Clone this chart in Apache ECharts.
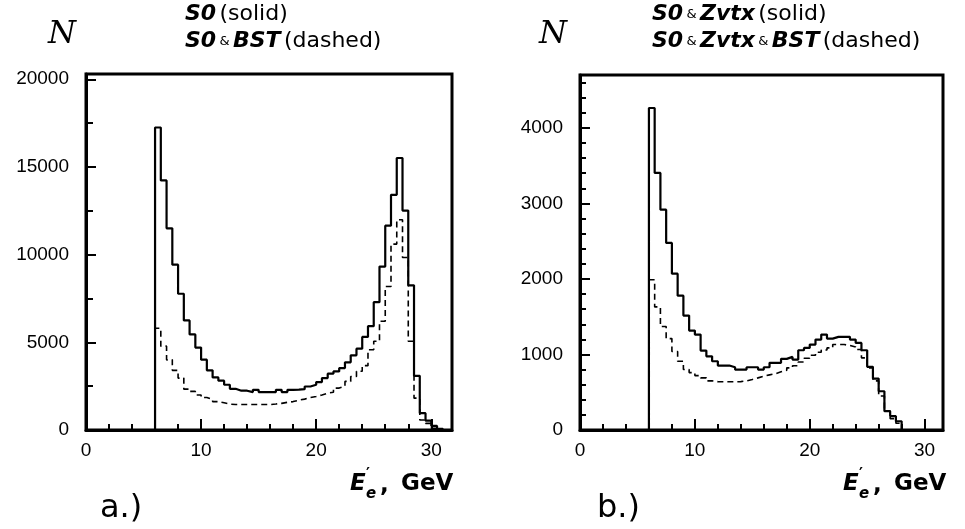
<!DOCTYPE html>
<html>
<head>
<meta charset="utf-8">
<script src="https://cdn.jsdelivr.net/npm/echarts@6/dist/echarts.min.js"></script>
<style>
html,body{margin:0;padding:0;background:#fff;}
#chart{width:965px;height:529px;}
</style>
</head>
<body>
<div id="chart"></div>
<script>
// ---- data ----
const binWidth = 0.5; // GeV
const binLow = [6, 6.5, 7, 7.5, 8, 8.5, 9, 9.5, 10, 10.5,
  11, 11.5, 12, 12.5, 13, 13.5, 14, 14.5, 15, 15.5,
  16, 16.5, 17, 17.5, 18, 18.5, 19, 19.5, 20, 20.5,
  21, 21.5, 22, 22.5, 23, 23.5, 24, 24.5, 25, 25.5,
  26, 26.5, 27, 27.5, 28, 28.5, 29, 29.5, 30, 30.5];

// panel a.) S0 (solid)
const aSolid = [17250, 14230, 11500, 9430, 7770, 6250, 5450, 4700, 4010, 3400,
  3000, 2810, 2580, 2350, 2240, 2240, 2160, 2290, 2160, 2160,
  2160, 2290, 2160, 2290, 2300, 2330, 2480, 2580, 2730, 2960,
  3210, 3340, 3530, 3860, 4260, 4640, 5310, 5920, 7290, 9320,
  11650, 13410, 15510, 12510, 8250, 3090, 960, 530, 230, 60];
// panel a.) S0 & BST (dashed)
const aDashed = [5800, 4780, 4000, 3400, 2960, 2330, 2200, 2000, 1850, 1750,
  1620, 1550, 1480, 1450, 1450, 1450, 1450, 1450, 1450, 1450,
  1480, 1520, 1580, 1620, 1700, 1760, 1850, 1910, 2000, 2100,
  2150, 2390, 2500, 2770, 3050, 3350, 3670, 4580, 5060, 6200,
  8180, 10600, 11990, 9840, 5060, 1815, 573, 380, 100, 0];

// panel b.) S0 & Zvtx (solid)
const bSolid = [4263, 3403, 2917, 2477, 2070, 1779, 1515, 1316, 1263, 1052,
  976, 910, 853, 853, 830, 800, 800, 831, 831, 800,
  831, 889, 889, 942, 968, 933, 1056, 1087, 1131, 1197,
  1263, 1210, 1233, 1233, 1233, 1197, 1153, 1056, 836, 681,
  513, 249, 183, 116];
// panel b.) S0 & Zvtx & BST (dashed)
const bDashed = [1990, 1630, 1370, 1210, 1040, 910, 800, 760, 720, 690,
  650, 640, 638, 638, 638, 640, 650, 668, 690, 712,
  730, 744, 770, 790, 823, 850, 900, 950, 990, 1030,
  1060, 1087, 1131, 1131, 1120, 1100, 1065, 955, 823, 650,
  450, 250, 150, 90];

const xMajor = 10, xMinor = 2;
const aYMajor = 5000, aYMinor = 2500, aYMax = 20300;
const bYMajor = 1000, bYMinor = 200, bYMax = 4700;
const aXMax = 31.8, bXMax = 31.6;

// ---- helpers ----
function histData(values) {
  const d = [[binLow[0], 0]];
  values.forEach((v, i) => d.push([binLow[i], v]));
  d.push([binLow[values.length - 1] + binWidth, 0]);
  return d;
}
const FONT = '"Liberation Sans", Arial, sans-serif';
function majorAxis(grid, pos, max, interval, len, margin) {
  return { gridIndex: grid, type: 'value', position: pos, min: 0, max: max, interval: interval,
    axisLine: { show: true, lineStyle: { color: '#000', width: 3 } },
    axisTick: { show: true, inside: true, length: len, lineStyle: { color: '#000', width: 2 } },
    axisLabel: { show: true, margin: margin, fontSize: 19, color: '#000', fontFamily: FONT,
      showMaxLabel: false, formatter: v => String(v) },
    splitLine: { show: false } };
}
function minorAxis(grid, pos, max, interval, len) {
  return { gridIndex: grid, type: 'value', position: pos, min: 0, max: max, interval: interval,
    axisLine: { show: false },
    axisTick: { show: true, inside: true, length: len, lineStyle: { color: '#000', width: 2 } },
    axisLabel: { show: false }, splitLine: { show: false } };
}
function line(xi, yi, data, dashed) {
  return { type: 'line', xAxisIndex: xi, yAxisIndex: yi, data: data, step: 'end',
    showSymbol: false, symbol: 'none', silent: true,
    lineStyle: { color: '#000', width: dashed ? 1.6 : 2.2, type: dashed ? [6, 4] : 'solid' } };
}
const tb = { fontFamily: '"DejaVu Sans", sans-serif', fontWeight: 'bold', fontStyle: 'italic', fontSize: 22, lineHeight: 27, fill: '#000', color: '#000' };
const tn = { fontFamily: '"DejaVu Sans", sans-serif', fontSize: 22, lineHeight: 27, color: '#000', fill: '#000' };
const ts = { fontFamily: '"DejaVu Sans", sans-serif', fontSize: 13, lineHeight: 27, color: '#000', fill: '#000' };
function txt(x, y, text, font, align) {
  return { type: 'text', x: x, y: y, silent: true,
    style: { text: text, font: font, fill: '#000', align: align || 'left', verticalAlign: 'middle' } };
}
function axisName(dx) {
  return [
    txt(350 + dx, 484, 'E', 'italic bold 23px "DejaVu Sans"'),
    txt(366 + dx, 475, '\u2032', 'bold 15px "DejaVu Sans"'),
    txt(366 + dx, 494, 'e', 'italic bold 15px "DejaVu Sans"'),
    txt(380 + dx, 486, ',', 'bold 23px "DejaVu Sans"'),
    txt(401 + dx, 484, 'GeV', 'bold 23px "DejaVu Sans"')
  ];
}
const gA = { left: 86, top: 74, width: 366, height: 356 };
const gB = { left: 580, top: 75, width: 363, height: 355 };

const chart = echarts.init(document.getElementById('chart'), null, { renderer: 'canvas' });
chart.setOption({
  animation: false,
  backgroundColor: '#fff',
  grid: [
    Object.assign({ show: true, borderColor: '#000', borderWidth: 3, backgroundColor: 'transparent' }, gA),
    Object.assign({ show: true, borderColor: '#000', borderWidth: 3, backgroundColor: 'transparent' }, gB),
    Object.assign({ show: false }, gA),
    Object.assign({ show: false }, gB)
  ],
  xAxis: [
    majorAxis(0, 'bottom', aXMax, xMajor, 11, 11),
    majorAxis(1, 'bottom', bXMax, xMajor, 11, 11),
    minorAxis(2, 'bottom', aXMax, xMinor, 6),
    minorAxis(3, 'bottom', bXMax, xMinor, 6)
  ],
  yAxis: [
    majorAxis(0, 'left', aYMax, aYMajor, 10, 17),
    majorAxis(1, 'left', bYMax, bYMajor, 10, 17),
    minorAxis(2, 'left', aYMax, aYMinor, 7),
    minorAxis(3, 'left', bYMax, bYMinor, 6)
  ],
  series: [
    line(0, 0, histData(aSolid), false),
    line(0, 0, histData(aDashed), true),
    line(1, 1, histData(bSolid), false),
    line(1, 1, histData(bDashed), true)
  ],
  graphic: [
    txt(62, 35, 'N', 'italic 32px "DejaVu Serif"', 'center'),
    txt(553, 35, 'N', 'italic 32px "DejaVu Serif"', 'center'),
    { type: 'text', x: 185, y: 1, silent: true,
      style: { text: '{b|S0} {n|(solid)}\n{b|S0} {s|&} {b|BST} {n|(dashed)}', rich: { b: tb, n: tn, s: ts }, fill: '#000' } },
    { type: 'text', x: 652, y: 1, silent: true,
      style: { text: '{b|S0} {s|&} {b|Zvtx} {n|(solid)}\n{b|S0} {s|&} {b|Zvtx} {s|&} {b|BST} {n|(dashed)}', rich: { b: tb, n: tn, s: ts }, fill: '#000' } },
    ...axisName(0),
    ...axisName(493),
    txt(100, 509, 'a.)', '32px "DejaVu Sans"'),
    txt(597, 509, 'b.)', '32px "DejaVu Sans"')
  ]
});
</script>
</body>
</html>
